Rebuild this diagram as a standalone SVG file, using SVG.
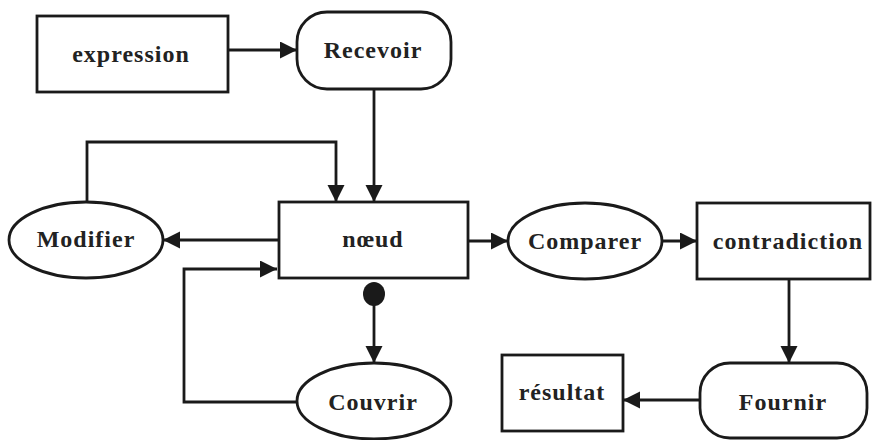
<svg xmlns="http://www.w3.org/2000/svg" width="872" height="440" viewBox="0 0 872 440">
  <style>
    .shape { fill: #ffffff; stroke: #1a1a1a; stroke-width: 2.8; }
    .label { font-family: "Liberation Serif", "Times New Roman", serif; font-weight: bold; font-size: 24px; letter-spacing: 1px; fill: #222222; text-anchor: middle; }
    .wire { fill: none; stroke: #1a1a1a; stroke-width: 2.8; }
  </style>
  <defs>
    <marker id="arrow" markerUnits="userSpaceOnUse" markerWidth="18" markerHeight="18" refX="17" refY="8.5" orient="auto">
      <path d="M0,0 L17,8.5 L0,17 z" fill="#1a1a1a"/>
    </marker>
  </defs>
  <rect width="872" height="440" fill="#ffffff"/>

  <g id="connectors">
    <!-- expression to Recevoir -->
    <path class="wire" d="M228,50 L297,50" marker-end="url(#arrow)"/>
    <!-- Recevoir to nœud -->
    <path class="wire" d="M374,89 L374,202" marker-end="url(#arrow)"/>
    <!-- Modifier back to nœud -->
    <path class="wire" d="M87,202 L87,142 L336,142 L336,202" marker-end="url(#arrow)"/>
    <!-- nœud to Modifier -->
    <path class="wire" d="M279,240 L163,240" marker-end="url(#arrow)"/>
    <!-- Couvrir back to nœud -->
    <path class="wire" d="M297,402 L184,402 L184,269 L277,269" marker-end="url(#arrow)"/>
    <!-- nœud to Couvrir, with dot origin -->
    <ellipse cx="374" cy="294" rx="11" ry="12" fill="#1a1a1a"/>
    <path class="wire" d="M374,300 L374,363" marker-end="url(#arrow)"/>
    <!-- nœud to Comparer -->
    <path class="wire" d="M468,241 L508,241" marker-end="url(#arrow)"/>
    <!-- Comparer to contradiction -->
    <path class="wire" d="M662,241 L697,241" marker-end="url(#arrow)"/>
    <!-- contradiction to Fournir -->
    <path class="wire" d="M789,279 L789,363" marker-end="url(#arrow)"/>
    <!-- Fournir to résultat -->
    <path class="wire" d="M700,400 L623,400" marker-end="url(#arrow)"/>
  </g>

  <g id="expression">
    <rect class="shape" x="37" y="16" width="191" height="76"/>
    <text class="label" x="131" y="62">expression</text>
  </g>
  <g id="recevoir">
    <rect class="shape" x="297" y="12" width="154" height="77" rx="30" ry="30"/>
    <text class="label" x="373" y="58">Recevoir</text>
  </g>
  <g id="noeud">
    <rect class="shape" x="279" y="202" width="189" height="76"/>
    <text class="label" x="373" y="247">nœud</text>
  </g>
  <g id="modifier">
    <ellipse class="shape" cx="86" cy="240" rx="77" ry="38"/>
    <text class="label" x="86" y="247">Modifier</text>
  </g>
  <g id="couvrir">
    <ellipse class="shape" cx="374" cy="401" rx="77" ry="38"/>
    <text class="label" x="373" y="410">Couvrir</text>
  </g>
  <g id="comparer">
    <ellipse class="shape" cx="585" cy="241" rx="77" ry="38"/>
    <text class="label" x="585" y="249">Comparer</text>
  </g>
  <g id="contradiction">
    <rect class="shape" x="697" y="203" width="173" height="76"/>
    <text class="label" x="788" y="249">contradiction</text>
  </g>
  <g id="resultat">
    <rect class="shape" x="502" y="355" width="121" height="76"/>
    <text class="label" x="562" y="400">résultat</text>
  </g>
  <g id="fournir">
    <rect class="shape" x="700" y="363" width="167" height="75" rx="30" ry="30"/>
    <text class="label" x="783" y="410">Fournir</text>
  </g>
</svg>
